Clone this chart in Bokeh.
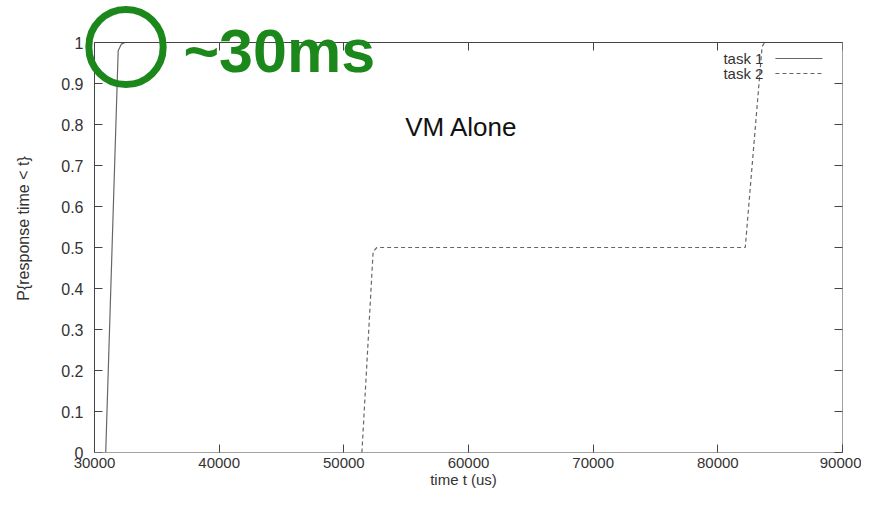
from bokeh.plotting import figure
from bokeh.models import (Range1d, FixedTicker, LinearAxis, Label, Arrow, BoxAnnotation,
                          NumeralTickFormatter)
from bokeh.embed import file_html
from bokeh.resources import INLINE

# ---- data ----
task1_t = [30900, 31900, 32150, 32450]
task1_p = [0.0, 0.98, 0.996, 1.0]
task2_t = [51450, 52350, 52650, 82200, 83550, 83750, 84100]
task2_p = [0.0, 0.49, 0.5, 0.5, 0.99, 1.0, 1.0]

x_ticks = [30000, 40000, 50000, 60000, 70000, 80000, 90000]
y_ticks = [0, 0.1, 0.2, 0.3, 0.4, 0.5, 0.6, 0.7, 0.8, 0.9, 1.0]
y_tick_labels = {0: "0", 1: "1"}
x_min, x_max, y_min, y_max = 30000, 90000, 0, 1

FONT = "Liberation Sans"
AX = "#444444"
TXT = "#333333"
LINE = "#666666"
GREEN = "#1c881c"

W, H = 861, 492
ML, MT, MR, MB = 84, 4, 19, 40
# a little room left of / above the plot box so the green ring is not clipped
x_pad, y_pad = 802, 0.0927

p = figure(width=W, height=H, output_backend="svg", toolbar_location=None,
           x_range=Range1d(x_min - x_pad, x_max), y_range=Range1d(y_min, y_max + y_pad),
           min_border_left=ML, min_border_top=MT, min_border_right=MR, min_border_bottom=MB,
           background_fill_color="white", border_fill_color="white")
p.grid.visible = False
p.outline_line_color = None

# plot box
p.add_layout(BoxAnnotation(left=x_min, right=x_max, bottom=y_min, top=y_max,
                           fill_color=None, fill_alpha=0, line_color=AX, line_width=1,
                           line_alpha=1))

p.line(task1_t, task1_p, line_color=LINE, line_width=1.2)
p.line(task2_t, task2_p, line_color=LINE, line_width=1.2, line_dash="4 3")

def style_axis(ax, size="16px", labels=True, ticks=True):
    ax.axis_line_color = None
    ax.major_tick_line_color = AX if ticks else None
    ax.major_tick_in = 8
    ax.major_tick_out = 0
    ax.minor_tick_line_color = None
    ax.major_label_text_font = FONT
    ax.major_label_text_color = TXT
    ax.major_label_text_font_size = size if labels else "0px"
    ax.axis_label_text_font = FONT
    ax.axis_label_text_font_style = "normal"
    ax.axis_label_text_color = TXT
    ax.axis_label_text_font_size = size

xa = p.xaxis[0]
xa.ticker = FixedTicker(ticks=x_ticks)
xa.formatter = NumeralTickFormatter(format="0")
xa.axis_label = "time t (us)"
style_axis(xa, "15px")
xa.major_label_standoff = 5
xa.axis_label_standoff = 0

# y labels (in the left panel, ticks drawn by a second axis at the box edge)
ya = p.yaxis[0]
ya.ticker = FixedTicker(ticks=y_ticks)
ya.major_label_overrides = y_tick_labels
ya.axis_label = "P{response time < t}"
style_axis(ya, "16px", ticks=False)
ya.major_tick_in = 0
ya.major_label_standoff = 1
ya.axis_label_standoff = 26

yt = LinearAxis(ticker=FixedTicker(ticks=y_ticks), fixed_location=x_min)
style_axis(yt, labels=False)
yt.major_label_standoff = 0
p.add_layout(yt, "left")

top = LinearAxis(ticker=FixedTicker(ticks=x_ticks), fixed_location=y_max)
style_axis(top, labels=False)
top.major_label_standoff = 0
p.add_layout(top, "above")
right = LinearAxis(ticker=FixedTicker(ticks=y_ticks))
style_axis(right, labels=False)
right.major_label_standoff = 0
p.add_layout(right, "right")

# legend (gnuplot style: text then sample)
p.add_layout(Label(x=83660, y=0.961, text="task 1", text_align="right", text_baseline="middle",
                   text_font=FONT, text_font_size="15px", text_color=TXT))
p.add_layout(Label(x=83660, y=0.9244, text="task 2", text_align="right", text_baseline="middle",
                   text_font=FONT, text_font_size="15px", text_color=TXT))
p.add_layout(Arrow(end=None, x_start=84620, y_start=0.961, x_end=88390, y_end=0.961,
                   line_color=LINE, line_width=1.2))
p.add_layout(Arrow(end=None, x_start=84620, y_start=0.9244, x_end=88390, y_end=0.9244,
                   line_color=LINE, line_width=1.2, line_dash="4 3"))

# title inside plot
p.add_layout(Label(x=59440, y=0.7927, text="VM Alone", text_align="center", text_baseline="middle",
                   text_font=FONT, text_font_size="26px", text_color="#111111"))

# green annotation: ring drawn as a fully rounded label box
p.add_layout(Label(x=32527, y=0.989, text=" ", text_align="center", text_baseline="middle",
                   text_font_size="1px", padding=37, border_radius=37,
                   border_line_color=GREEN, border_line_width=7,
                   background_fill_color=None))
p.add_layout(Label(x=37139, y=0.980, text="~30ms", text_align="left", text_baseline="middle",
                   text_font=FONT, text_font_style="bold", text_font_size="61px", text_color=GREEN))

open("out.html", "w").write(file_html(p, INLINE))
